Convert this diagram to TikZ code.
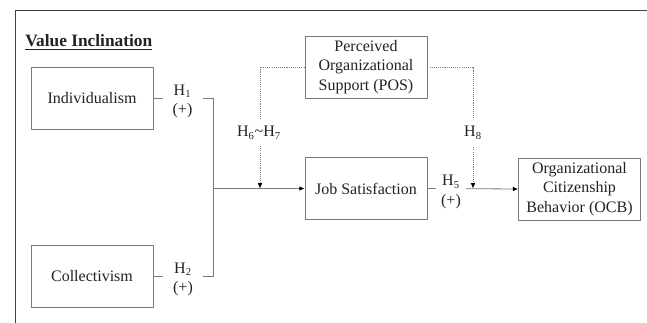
\documentclass[tikz,border=0pt]{standalone}
\usepackage{fontspec}
\setmainfont{Liberation Serif}
\usetikzlibrary{arrows.meta,positioning}
\definecolor{linegray}{HTML}{7A7A7A}
\definecolor{framegray}{HTML}{404040}
\definecolor{textgray}{HTML}{222222}
\tikzset{
    construct/.style={draw=linegray, semithick, fill=white, text=textgray,
        minimum width=91.5pt, minimum height=46.5pt, align=center,
        inner sep=1pt, font=\fontsize{12}{14.6}\selectfont},
    hyp/.style={fill=white, text=textgray, align=center, inner sep=0pt,
        font=\fontsize{12}{14.3}\selectfont},
    link/.style={draw=linegray, semithick},
    moderate/.style={draw=linegray, semithick, dash pattern=on 0.8pt off 0.8pt},
    tip/.style={-{Latex[black, length=4pt, width=3.5pt]}}
}
\begin{document}
\begin{tikzpicture}[x=0.75pt, y=-0.75pt]
    \useasboundingbox (0,0) rectangle (647,323);
    % frame and heading
    \draw[framegray, semithick] (15,323) |- (647,10);
    \node[anchor=base west, text=textgray, inner sep=0pt,
        font=\fontsize{13}{15}\selectfont\bfseries] (title) at (25,47) {\underline{Value Inclination}};
    % constructs
    \node[construct] (indiv) at (92,98) {Individualism};
    \node[construct] (coll) at (92,276) {Collectivism};
    \node[construct] (pos) at (366,67) {Perceived\\Organizational\\Support (POS)};
    \node[construct] (js) at (366,188.5) {Job Satisfaction};
    \node[construct] (ocb) at (579.5,189) {Organizational\\Citizenship\\Behavior (OCB)};
    \coordinate (jn) at (213,188.5);
    \coordinate (m1) at (260,188.5);
    \coordinate (m2) at (473,188.5);
    % main paths
    \draw[link] (indiv.east) -| (jn);
    \draw[link] (coll.east) -| (jn);
    \draw[link, tip] (jn) -- (js.west);
    \draw[link, tip] (js.east) -- (ocb.west);
    % moderation by POS
    \draw[moderate, tip] (pos.west) -| (m1);
    \draw[moderate, tip] (pos.east) -| (m2);
    % hypothesis labels
    \node[hyp, minimum width=30pt] (h1) at (182.5,101.5) {H\textsubscript{1}\\(+)};
    \node[hyp, minimum width=30pt] (h2) at (183,279.5) {H\textsubscript{2}\\(+)};
    \node[hyp, minimum width=22pt] (h5) at (451,192) {H\textsubscript{5}\\(+)};
    \node[hyp, minimum height=20pt] (h67) at (259,133) {H\textsubscript{6}\textasciitilde H\textsubscript{7}};
    \node[hyp, minimum height=20pt] (h8) at (473,133) {H\textsubscript{8}};
\end{tikzpicture}
\end{document}
